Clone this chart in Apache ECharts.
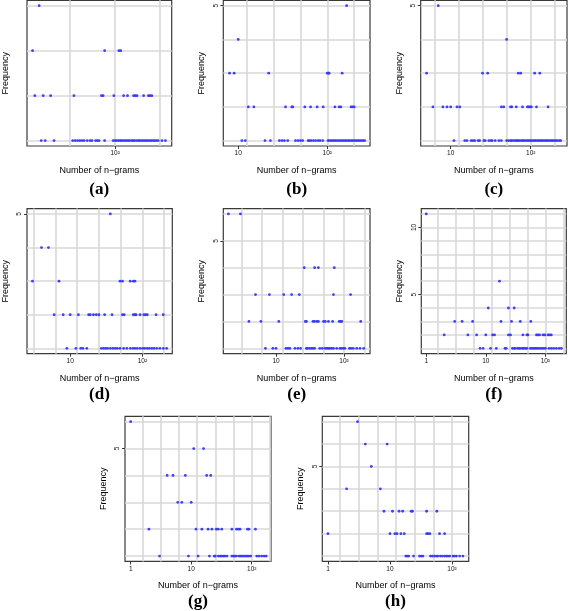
<!DOCTYPE html>
<html><head><meta charset="utf-8">
<script src="https://cdn.jsdelivr.net/npm/echarts@6/dist/echarts.min.js"></script>
<style>html,body{margin:0;padding:0;background:#fff}#c{width:568px;height:611px}</style>
</head><body><div id="c"></div>
<script>
// ---- data: number of n-grams (x) per frequency level (y) ----
const a1 = [32,34,39,52,54,56,58,60,62,65,68,70,74,76,78,85,97,100,102,105,108,110,113,116,119,122,125,129,132,135,139,143,146,150,154,158,162,166,171,175,180,184,189,194,206,217];
const a2 = [29,33,37,53,81,83,98,114,121,133,136,140,155,167,171,176];
const a3 = [28,85,106,109];
const a4 = [31];

const b1 = [11,12,20,23,29,31,33,36,44,47,50,53,61,63,66,70,74,79,83,89,102,106,111,116,121,126,132,138,144,150,157,163,171,178,186,194,203,212,221,231,241,252,263];
const b2 = [13,15,34,40,41,56,65,77,90,122,136,142,185,193,201];
const b3 = [8,9,22,100,103,105,147];
const b4 = [10];
const b5 = [165];

const c1 = [11,15,16,18,19,20,22,23,26,27,30,32,33,36,40,43,50,53,56,58,61,64,67,69,72,76,79,82,86,90,94,98,102,107,112,116,122,127,133,138,144,151,157,164,172,179,187,195,204,213,226,237];
const c2 = [6,8,9,10,12,13,43,46,56,58,66,79,91,94,98,102,118,165];
const c3 = [5,25,29,70,75,112,130];
const c4 = [50];
const c5 = [7];

const d1 = [9,12,14,15,17,27,29,31,33,36,39,42,45,49,55,61,68,74,79,85,93,101,108,117,125,135,145,158,175,195,217];
const d2 = [6,8,10,13,18,19,21,23,25,30,38,53,56,75,79,82,93,105,111,117,155,195];
const d3 = [3,7,49,53,68,75,79];
const d4 = [4,5];
const d5 = [36];

const e1 = [7,9,10,14,15,16,19,21,23,28,29,31,33,35,37,44,48,53,56,59,62,66,70,78,87,92,98,103,120,127,137,154,172,195];
const e2 = [4,6,11,27,28,35,37,40,42,50,53,59,68,85,89,93,176];
const e3 = [5,8,13,17,22,70,125];
const e4 = [26,37,42,72];
const e6 = [2,3];

const f1 = [8,9,12,15,21,22,28,30,31,34,36,38,41,43,46,49,56,60,64,68,72,77,82,88,94,101,115,126,138,153,170,186];
const f2 = [2,5,7,10,13,14,24,26,42,49,51,71,75,80,91,98,111,118,126];
const f3 = [3,4,6,18,27,38,57];
const f4 = [11,24,30];
const f6 = [17];
const f11 = [1];

const g1 = [3,9,13,20,24,25,28,30,32,34,36,39,47,50,53,56,62,66,70,75,80,85,90,96,121,132,146,160,173];
const g2 = [2,12,15,19,22,26,28,32,47,56,60,64,85,90,115];
const g3 = [6,7,10];
const g4 = [4,5,8,18,21];
const g5 = [11,16];
const g6 = [1];

const h1 = [18,19,20,24,30,32,34,45,48,52,56,59,65,70,76,81,86,92,104,110,118,133,150];
const h2 = [1,10,12,13,15,17,39,41,44,63,76];
const h3 = [8,11,14,16,22,23,39,57];
const h4 = [2,7];
const h5 = [5];
const h6 = [4,9];
const h7 = [3];

// ---- ticks / labels ----
const xGridTicks = [0.78125,1.5625,3.125,6.25,12.5,25,50,100,200];
const xLabelTicks = [1,10,100];
const yGridTicks = [1,2,3,4,5,6,7,8,9,10,11];
const yLabelTicks = [5,10];
const panelLetters = ['(a)','(b)','(c)','(d)','(e)','(f)','(g)','(h)'];
const xTitle = 'Number of n\u2212grams';
const yTitle = 'Frequency';

// axis domains per panel
const xRanges = [[25.7,239],[6.8,302],[4.22,284],[2.52,260],[1.68,241],[0.824,225],[0.805,208],[0.81,186]];
const yRanges = [[0.88,4.12],[0.84,5.16],[0.84,5.16],[0.84,5.16],[0.8,6.2],[0.6,11.4],[0.8,6.2],[0.76,7.24]];

const panelLevels = [
  [[1,a1],[2,a2],[3,a3],[4,a4]],
  [[1,b1],[2,b2],[3,b3],[4,b4],[5,b5]],
  [[1,c1],[2,c2],[3,c3],[4,c4],[5,c5]],
  [[1,d1],[2,d2],[3,d3],[4,d4],[5,d5]],
  [[1,e1],[2,e2],[3,e3],[4,e4],[6,e6]],
  [[1,f1],[2,f2],[3,f3],[4,f4],[6,f6],[11,f11]],
  [[1,g1],[2,g2],[3,g3],[4,g4],[5,g5],[6,g6]],
  [[1,h1],[2,h2],[3,h3],[4,h4],[5,h5],[6,h6],[7,h7]]
];

// ---- layout (pixels) ----
const boxes = [ // left, top, right, bottom
  [26.7,0.3,171.7,146],[223.3,0.3,370,146],[420.7,0.3,567,146],
  [26.7,208.6,172.3,353.7],[223.3,208.6,370,353.7],[421.3,208.6,566.3,353.7],
  [125,416.3,271,561.4],[322.3,416.3,468.7,561.4]
];
const letterY = [189.5,189.5,189.5,394.5,394.5,394.5,601.5,601.5];

const FONT = 'Liberation Sans, Arial, sans-serif';
const inRange = (arr, r) => arr.filter(v => v >= r[0] && v <= r[1]);

const grid = [], xAxis = [], yAxis = [], series = [], graphic = [];
boxes.forEach((b, i) => {
  grid.push({left: b[0], top: b[1], width: b[2]-b[0], height: b[3]-b[1],
    show: true, borderColor: '#3a3a3a', borderWidth: 1.2, backgroundColor: 'transparent', containLabel: false});
  const xr = xRanges[i], yr = yRanges[i];
  xAxis.push({type: 'log', logBase: 10, gridIndex: i, min: xr[0], max: xr[1], position: 'bottom',
    axisLine: {show: false},
    axisTick: {show: true, length: 3, inside: false, lineStyle: {color: '#333', width: 1}, customValues: inRange(xLabelTicks, xr)},
    axisLabel: {show: true, fontSize: 6.5, color: '#111', fontFamily: FONT, margin: 4, customValues: inRange(xLabelTicks, xr),
      formatter: v => Math.abs(v - 100) < 1e-6 ? '10\u00b2' : String(Math.round(v))},
    splitLine: {show: false},
    name: xTitle, nameLocation: 'middle', nameGap: 20,
    nameTextStyle: {fontSize: 9, color: '#000', fontFamily: FONT}
  });
  xAxis.push({type: 'log', logBase: 10, gridIndex: i, min: xr[0], max: xr[1], position: 'top',
    axisLine: {show: false}, axisLabel: {show: false},
    axisTick: {show: false, customValues: inRange(xGridTicks, xr)},
    splitLine: {show: true, lineStyle: {color: '#d8d8d8', width: 1.6}}
  });
  yAxis.push({type: 'value', gridIndex: i, min: yr[0], max: yr[1], position: 'left',
    axisLine: {show: false},
    axisTick: {show: true, length: 3, lineStyle: {color: '#333', width: 1}, customValues: inRange(yLabelTicks, yr)},
    axisLabel: {show: true, rotate: 90, fontSize: 6.5, color: '#111', fontFamily: FONT, margin: 4, customValues: inRange(yLabelTicks, yr)},
    splitLine: {show: false},
    name: yTitle, nameLocation: 'middle', nameGap: 17, nameRotate: 90,
    nameTextStyle: {fontSize: 9, color: '#000', fontFamily: FONT}
  });
  yAxis.push({type: 'value', gridIndex: i, min: yr[0], max: yr[1], position: 'right',
    axisLine: {show: false}, axisLabel: {show: false},
    axisTick: {show: false, customValues: inRange(yGridTicks, yr)},
    splitLine: {show: true, lineStyle: {color: '#d8d8d8', width: 1.6}}
  });
  const data = [];
  panelLevels[i].forEach(([f, xs]) => xs.forEach(x => data.push([x, f])));
  series.push({type: 'scatter', xAxisIndex: 2*i, yAxisIndex: 2*i, data,
    symbol: 'circle', symbolSize: 2.8, itemStyle: {color: '#3535ff', opacity: 0.95},
    silent: true, animation: false, z: 5});
  graphic.push({type: 'text', x: (b[0]+b[2])/2, y: letterY[i],
    style: {text: panelLetters[i], font: 'bold 17px "Liberation Serif", "Times New Roman", serif',
      fill: '#000', textAlign: 'center', textVerticalAlign: 'middle'}});
});

const chart = echarts.init(document.getElementById('c'), null, {renderer: 'canvas'});
chart.setOption({animation: false, backgroundColor: '#fff', grid, xAxis, yAxis, series, graphic});
</script>
</body></html>
